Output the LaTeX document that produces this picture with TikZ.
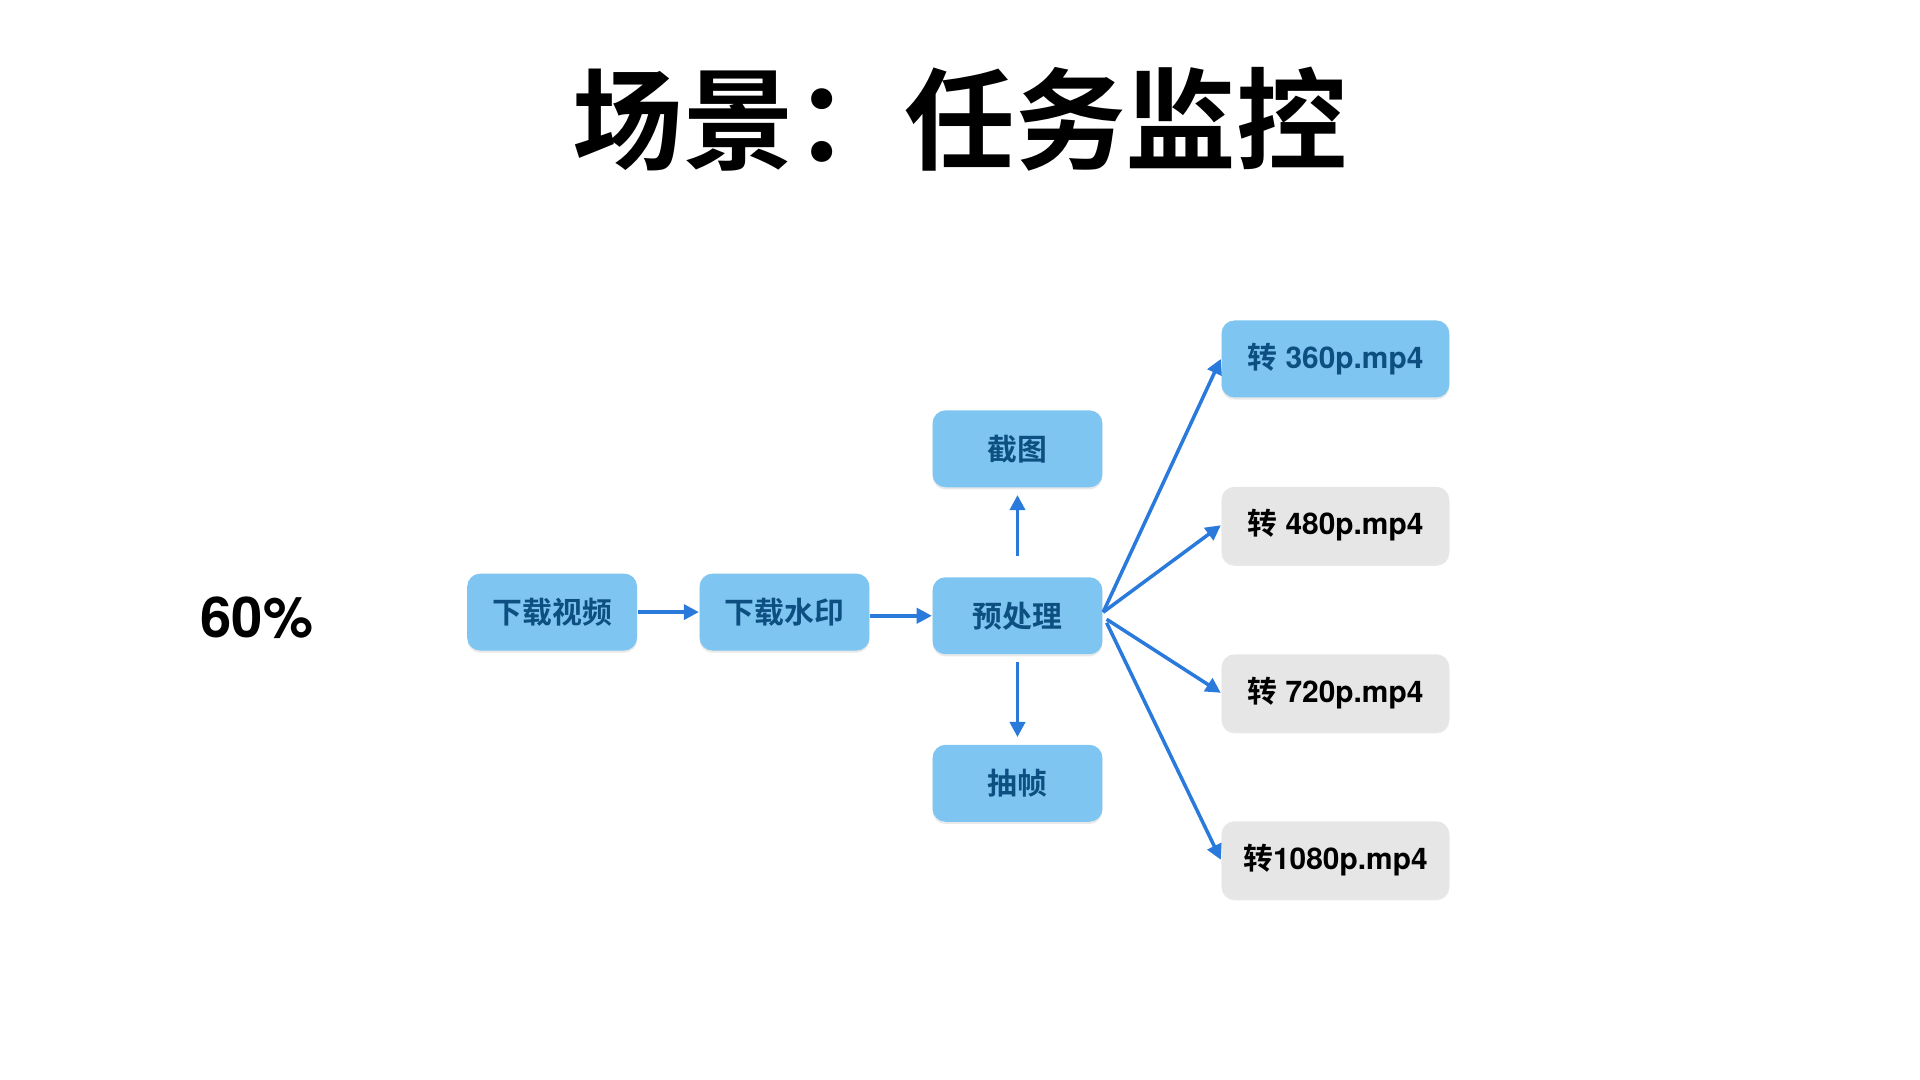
\documentclass[tikz,border=0pt]{standalone}
\usepackage{fontspec}
\setmainfont{TeX Gyre Heros}
\newfontfamily\cjk{Noto Sans CJK SC}[BoldFont={Noto Sans CJK SC Bold}]
\usetikzlibrary{shadows,arrows.meta}
\definecolor{boxblue}{HTML}{7EC6F1}
\definecolor{textblue}{HTML}{0C4F80}
\definecolor{arrowblue}{HTML}{2A7ADB}
\definecolor{boxgray}{HTML}{E6E6E6}
\tikzset{
  taskbox/.style={rounded corners=0.13cm, minimum width=1.70cm, minimum height=0.77cm,
    fill=boxblue, text=textblue, font=\fontsize{8.5}{10}\selectfont\bfseries,
    drop shadow={shadow xshift=0pt, shadow yshift=-0.6pt, opacity=0.18}},
  widebox/.style={taskbox, minimum width=2.28cm},
  graybox/.style={widebox, fill=boxgray, text=black},
  flow/.style={draw=arrowblue, line width=1pt, -{Triangle[length=4.3pt,width=4.3pt]}}
}
\begin{document}
\begin{tikzpicture}[x=0.01223cm, y=-0.01223cm]
                \useasboundingbox (0,0) rectangle (1570,883.1);
                \node[font=\fontsize{31.5}{36}\selectfont\cjk\bfseries] (title) at (785,97) {场景：任务监控};
                \node[font=\fontsize{16}{20}\selectfont\bfseries] (pct) at (210,505) {60\%};
                \node[taskbox] (dlvideo) at (451.5,500.5) {\cjk 下载视频};
                \node[taskbox] (dlmark) at (641.5,500.5) {\cjk 下载水印};
                \node[taskbox] (prep) at (832,503.5) {\cjk 预处理};
                \node[taskbox] (shot) at (832,367) {\cjk 截图};
                \node[taskbox] (frames) at (832,640.5) {\cjk 抽帧};
                \node[widebox] (p360) at (1092,293.5) {{\cjk 转} 360p.mp4};
                \node[graybox] (p480) at (1092,429.5) {{\cjk 转} 480p.mp4};
                \node[graybox] (p720) at (1092,566.5) {{\cjk 转} 720p.mp4};
                \node[graybox] (p1080) at (1092,703) {{\cjk 转}1080p.mp4};
                \draw[flow] (dlvideo) -- (dlmark);
                \draw[flow] (dlmark.east |- prep.west) -- (prep.west);
                \draw[flow, shorten <=6pt, shorten >=2pt] (prep) -- (shot);
                \draw[flow, shorten <=2pt, shorten >=2pt] (prep) -- (frames);
                \draw[flow] ([yshift=1pt]prep.east) -- (p360.west);
                \draw[flow] ([yshift=1pt]prep.east) -- (p480.west);
                \draw[flow] ([xshift=1pt,yshift=-1pt]prep.east) -- (p720.west);
                \draw[flow] ([xshift=1pt,yshift=-2pt]prep.east) -- (p1080.west);
\end{tikzpicture}
\end{document}
